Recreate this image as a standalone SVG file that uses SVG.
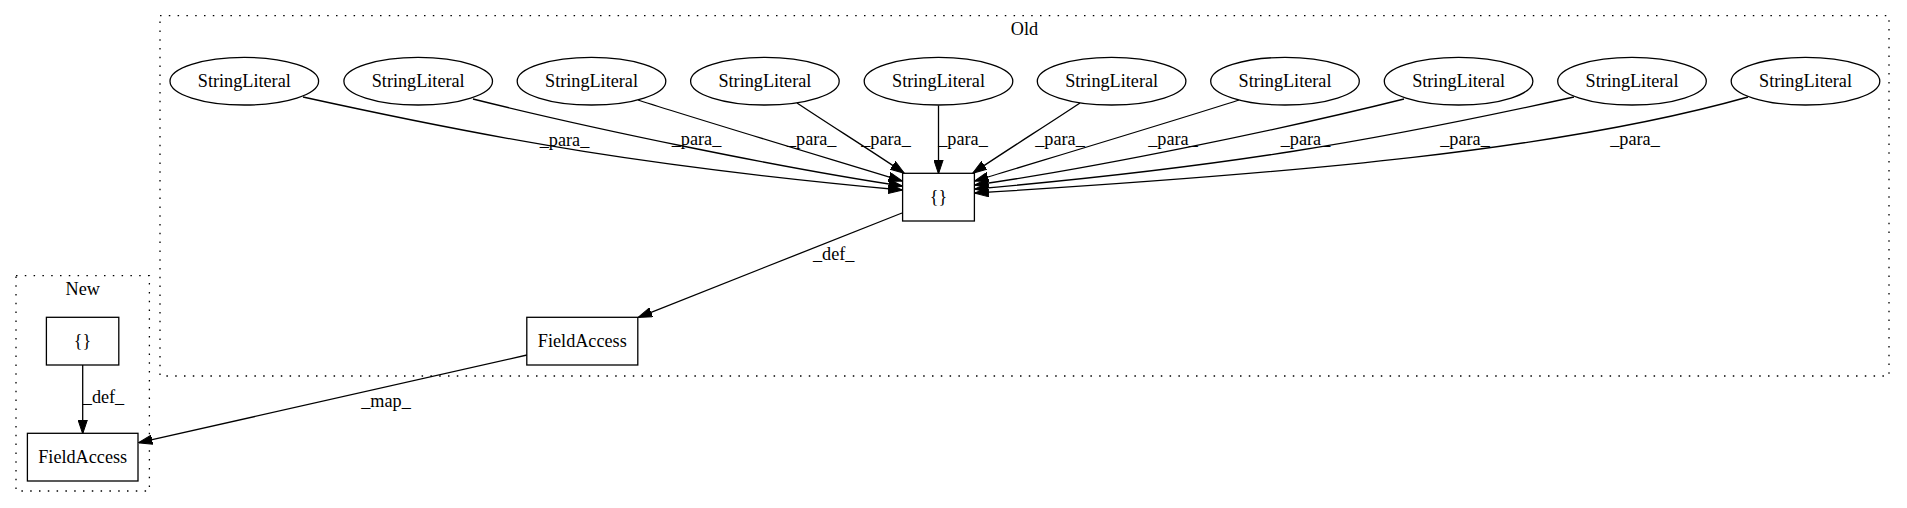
<svg xmlns="http://www.w3.org/2000/svg" width="1907" height="508" viewBox="0 0 1907 508">
<defs>
<style>
.cl{fill:none;stroke:#000;stroke-width:1.3;stroke-dasharray:1.5,7.3}
.nd{fill:#fff;stroke:#000;stroke-width:1.3}
.e{fill:none;stroke:#000;stroke-width:1.3;marker-end:url(#ah)}
</style>
<marker id="ah" viewBox="0 0 14 10" refX="13.5" refY="5" markerWidth="14" markerHeight="10" markerUnits="userSpaceOnUse" orient="auto">
<path d="M0,0.3 L14,5 L0,9.7 z" fill="#000" stroke="#000" stroke-width="1"/>
</marker>
</defs>
<rect width="1907" height="508" fill="#fff"/>
<g id="cluster_old">
<rect class="cl" x="160" y="15.7" width="1729" height="360.3"/>
<text x="1024.5" y="35" font-size="18.2" font-family="Liberation Serif, serif" text-anchor="middle">Old</text>
</g>
<g id="cluster_new">
<rect class="cl" x="16" y="275.7" width="133.4" height="215.3"/>
<text x="82.7" y="295" font-size="18.2" font-family="Liberation Serif, serif" text-anchor="middle">New</text>
</g>
<g id="edges">
<path class="e" d="M303,97 C503,141 652,167 902,190"/>
<path class="e" d="M473,99 C593,129 782,168 902,186"/>
<path class="e" d="M638,100 C700,120 840,162 902,181"/>
<path class="e" d="M797,103 C830,125 870,150 904,173"/>
<path class="e" d="M938.5,105.5 L938.5,173.3"/>
<path class="e" d="M1080,103 C1047,125 1007,150 973,173"/>
<path class="e" d="M1239,100 C1177,120 1037,162 975,181"/>
<path class="e" d="M1404,99 C1284,129 1095,168 975,185"/>
<path class="e" d="M1574,97 C1374,141 1225,167 975,189"/>
<path class="e" d="M1748,97 C1560,150 1300,173 975,193"/>
<path class="e" d="M902,213 L638.5,317.3"/>
<path class="e" d="M527,355 L138.9,442.7"/>
<path class="e" d="M82.7,365 L82.7,433.3"/>
<text x="564.5" y="145.5" font-size="18.2" font-family="Liberation Serif, serif" text-anchor="middle">_para_</text>
<text x="696.5" y="145" font-size="18.2" font-family="Liberation Serif, serif" text-anchor="middle">_para_</text>
<text x="811.7" y="145" font-size="18.2" font-family="Liberation Serif, serif" text-anchor="middle">_para_</text>
<text x="886" y="145" font-size="18.2" font-family="Liberation Serif, serif" text-anchor="middle">_para_</text>
<text x="963" y="145" font-size="18.2" font-family="Liberation Serif, serif" text-anchor="middle">_para_</text>
<text x="1060" y="145" font-size="18.2" font-family="Liberation Serif, serif" text-anchor="middle">_para_</text>
<text x="1173" y="145" font-size="18.2" font-family="Liberation Serif, serif" text-anchor="middle">_para_</text>
<text x="1305.5" y="145" font-size="18.2" font-family="Liberation Serif, serif" text-anchor="middle">_para_</text>
<text x="1465" y="145" font-size="18.2" font-family="Liberation Serif, serif" text-anchor="middle">_para_</text>
<text x="1635" y="145" font-size="18.2" font-family="Liberation Serif, serif" text-anchor="middle">_para_</text>
<text x="833.7" y="260" font-size="18.2" font-family="Liberation Serif, serif" text-anchor="middle">_def_</text>
<text x="386" y="406.7" font-size="18.2" font-family="Liberation Serif, serif" text-anchor="middle">_map_</text>
<text x="103.5" y="403" font-size="18.2" font-family="Liberation Serif, serif" text-anchor="middle">_def_</text>
</g>
<g id="sl1"><ellipse class="nd" cx="244.3" cy="81.2" rx="74.3" ry="23.8"/><text x="244.3" y="86.7" font-size="18.2" font-family="Liberation Serif, serif" text-anchor="middle">StringLiteral</text></g>
<g id="sl2"><ellipse class="nd" cx="418.2" cy="81.2" rx="74.3" ry="23.8"/><text x="418.2" y="86.7" font-size="18.2" font-family="Liberation Serif, serif" text-anchor="middle">StringLiteral</text></g>
<g id="sl3"><ellipse class="nd" cx="591.5" cy="81.2" rx="74.3" ry="23.8"/><text x="591.5" y="86.7" font-size="18.2" font-family="Liberation Serif, serif" text-anchor="middle">StringLiteral</text></g>
<g id="sl4"><ellipse class="nd" cx="764.9" cy="81.2" rx="74.3" ry="23.8"/><text x="764.9" y="86.7" font-size="18.2" font-family="Liberation Serif, serif" text-anchor="middle">StringLiteral</text></g>
<g id="sl5"><ellipse class="nd" cx="938.5" cy="81.2" rx="74.3" ry="23.8"/><text x="938.5" y="86.7" font-size="18.2" font-family="Liberation Serif, serif" text-anchor="middle">StringLiteral</text></g>
<g id="sl6"><ellipse class="nd" cx="1111.6" cy="81.2" rx="74.3" ry="23.8"/><text x="1111.6" y="86.7" font-size="18.2" font-family="Liberation Serif, serif" text-anchor="middle">StringLiteral</text></g>
<g id="sl7"><ellipse class="nd" cx="1285" cy="81.2" rx="74.3" ry="23.8"/><text x="1285" y="86.7" font-size="18.2" font-family="Liberation Serif, serif" text-anchor="middle">StringLiteral</text></g>
<g id="sl8"><ellipse class="nd" cx="1458.6" cy="81.2" rx="74.3" ry="23.8"/><text x="1458.6" y="86.7" font-size="18.2" font-family="Liberation Serif, serif" text-anchor="middle">StringLiteral</text></g>
<g id="sl9"><ellipse class="nd" cx="1632" cy="81.2" rx="74.3" ry="23.8"/><text x="1632" y="86.7" font-size="18.2" font-family="Liberation Serif, serif" text-anchor="middle">StringLiteral</text></g>
<g id="sl10"><ellipse class="nd" cx="1805.5" cy="81.2" rx="74.3" ry="23.8"/><text x="1805.5" y="86.7" font-size="18.2" font-family="Liberation Serif, serif" text-anchor="middle">StringLiteral</text></g>
<g id="old_braces"><rect class="nd" x="902.6" y="173.3" width="71.8" height="47.7"/><text x="938.5" y="202.7" font-size="18.2" font-family="Liberation Serif, serif" text-anchor="middle">{}</text></g>
<g id="old_fieldaccess"><rect class="nd" x="526.8" y="317.3" width="111" height="47.7"/><text x="582.3" y="346.7" font-size="18.2" font-family="Liberation Serif, serif" text-anchor="middle">FieldAccess</text></g>
<g id="new_braces"><rect class="nd" x="46.4" y="317.3" width="72.4" height="47.7"/><text x="82.6" y="346.7" font-size="18.2" font-family="Liberation Serif, serif" text-anchor="middle">{}</text></g>
<g id="new_fieldaccess"><rect class="nd" x="27.4" y="433.3" width="110.6" height="47.7"/><text x="82.7" y="462.7" font-size="18.2" font-family="Liberation Serif, serif" text-anchor="middle">FieldAccess</text></g>
</svg>
